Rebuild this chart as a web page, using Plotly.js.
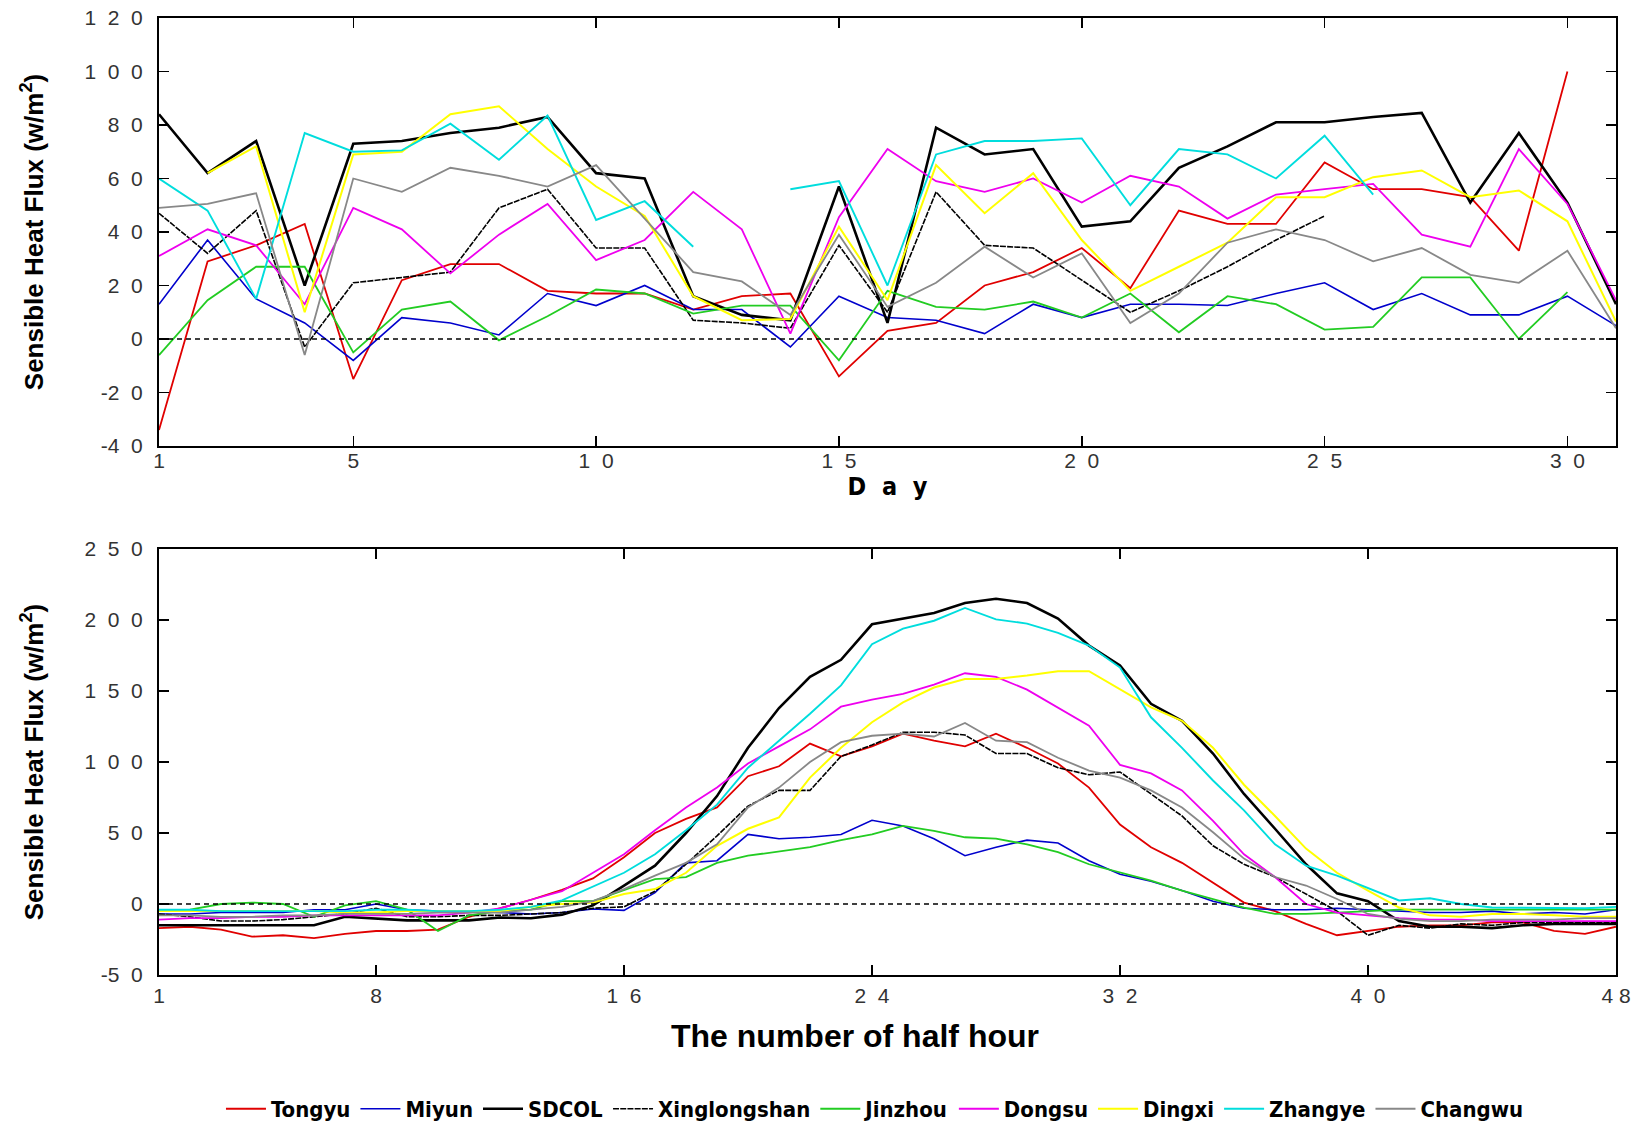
<!DOCTYPE html>
<html>
<head>
<meta charset="utf-8">
<script src="https://cdn.plot.ly/plotly-3.0.1.min.js"></script>
<style>
html,body{margin:0;padding:0;background:#fff;}
#chart{width:1633px;height:1123px;}
</style>
</head>
<body>
<div id="chart"></div>
<script>
// ---------------- data ----------------
const stations = ['Tongyu','Miyun','SDCOL','Xinglongshan','Jinzhou','Dongsu','Dingxi','Zhangye','Changwu'];

const days = [1,2,3,4,5,6,7,8,9,10,11,12,13,14,15,16,17,18,19,20,21,22,23,24,25,26,27,28,29,30,31];

const tongyuDay = [-34,29,35,43,-15,22,28,28,18,17,17,11,16,17,-14,3,6,20,25,34,19,48,43,43,66,56,56,53,33,100,null];
const miyunDay = [13,37,15,6,-8,8,6,1.5,17,12.5,20,11,11,-3,16,8,7,2,13,8,13,13,12.5,17,21,11,17,9,9,16,5];
const sdcolDay = [84,62,74,20,73,74,77,79,83,62,60,16,9,7,57,6,79,69,71,42,44,64,72,81,81,83,84.5,51,77,51,13];
const xinglongshanDay = [47,32,48,-3,21,23,25,49,56,34,34,7,6,4,35,10,55,35,34,22,10,18,27,37,46,null,null,null,null,null,null];
const jinzhouDay = [-6,14.5,27,27,-5,11,14,-0.5,8.5,18.5,17,9.5,12.5,12.5,-8,18,12,11,14,8,17,2.5,16,13,3.5,4.5,23,23,0,17.5,null];
const dongsuDay = [31,41,35,13,49,41,24.5,39,50.5,29.5,37,55,41,2,45.5,71,59,55,60,51,61,57,45,54,56,58,39,34.5,71,50.5,14.5];
const dingxiDay = [null,62,72,10,69,70,84,87,71,57,46,16,7,7.5,42,14.5,65,47,62,37,18,27,36,53,53,60.5,63,53,55.5,44,6.5];
const zhangyeDay = [60,48,15,77,70,70.5,80.5,67,83.5,44.5,51.5,34.5,null,56,59,20,69,74,74,75,50,71,69,60,76,54,null,null,null,null,null];
const changwuDay = [49,50.5,54.5,-6,60,55,64,61,57,65,45,25,21.5,9,39,12,21,34.5,23,32,6,17,36,41,37,29,34,24,21,33,4];

const halfHours = [1,2,3,4,5,6,7,8,9,10,11,12,13,14,15,16,17,18,19,20,21,22,23,24,25,26,27,28,29,30,31,32,33,34,35,36,37,38,39,40,41,42,43,44,45,46,47,48];

const tongyuHH = [-17,-16,-18,-23,-22,-24,-21,-19,-19,-18,-9,-3,3,10,18,33,50,60,68,90,97,113,104,111,120,115,111,120,110,99,82,56,40,29,15,1,-5,-14,-22,-19,-16,-15,-15,-13,-13,-19,-21,-16];
const miyunHH = [-7,-7,-6,-6,-6,-4,-4,0,-4,-5,-5,-6,-7,-6,-3.5,-4.5,8,29,30.5,49,46,47,49,59,55,46,34,40,45,43,30.5,21,16,9.5,2,-3,-4,-4,-3,-4,-5,-6,-6,-5,-7,-6,-7,-4];
const sdcolHH = [-15,-15,-15,-15,-15,-15,-9,-10.5,-11.5,-11.5,-11.5,-9.5,-10,-7.5,-1,13,27,50,76,110,138,160,172,197,201,205,212,215,212,201,182,168,141,129,106,77.5,53,28,7.5,2,-12,-16,-16,-17,-15,-14,-14,-14];
const xinglongshanHH = [-7,-9,-12,-12,-11,-9,-7,-3,-9,-9,-8,-8,-7,-6,-3,-2,9,28,48,69,80,80,104,112,121,121,119,106,106,96,91,93,77.5,62,41,28,19,7,-5,-22,-15,-17,-14,-15,-13,-13,-13,-13];
const jinzhouHH = [-5,-4,0,1,0,-9,-1,2,-4,-19,-8,-5,-4,2,2,9.5,17.5,19,29,34,37,40,45,49,55,51.5,47,46,42,36.5,28,22,16.5,9.5,3.5,-2.5,-7,-7,-6,-5,-4,-4,-4,-4,-4,-4,-4,-4];
const dongsuHH = [-11,-10,-10,-9,-9,-8,-8,-8,-8,-8,-6,-3,3,9,22,35,52,68,82,99,111,123,139,144,148,154.5,162.5,160,151,138.5,125.5,98,92,80,58.5,35,19,0,-6,-8,-10,-11,-11,-12,-12,-12,-12,-12];
const dingxiHH = [-5,-5,-5,-5,-5,-5,-6,-6,-5,-5,-5,-5,-2,0,1,7,10.5,22,41,53,61,89,110,128,142,152.5,158.5,158.5,161,164,164,151,138.5,129,110,84,62,39,22,9.5,-2.5,-8,-9,-7,-7,-8,-9,-9];
const zhangyeHH = [-4,-4,-5,-5,-5,-5,-5,-4,-4,-5,-5,-4,-2,2.5,12,22,35,52,70,96,115,134,154,183,194,199.5,208.5,200.5,197.5,191,182,166.5,131.5,110,87,66,42,27,20,11.5,2.5,4,0,-2.5,-2.5,-3,-3,-2];
const changwuHH = [-8,-8,-9,-9,-8,-8,-7,-7,-7,-6,-6,-6,-4,-2,2,10.5,20,29,42,68,82,100,114,118.5,120,118,127.5,115,114,103,94,89,80,68,50.5,32,19,13,3.5,-7,-10.5,-12,-12,-11,-11,-11,-10,-10];

const dayTickVals = [1,5,10,15,20,25,30];
const dayTickText = ['1','5','1 0','1 5','2 0','2 5','3 0'];
const dayFluxTickVals = [-40,-20,0,20,40,60,80,100,120];
const dayFluxTickText = ['-4 0','-2 0','0','2 0','4 0','6 0','8 0','1 0 0','1 2 0'];
const hhTickVals = [1,8,16,24,32,40,48];
const hhTickText = ['1','8','1 6','2 4','3 2','4 0','4 8'];
const hhFluxTickVals = [-50,0,50,100,150,200,250];
const hhFluxTickText = ['-5 0','0','5 0','1 0 0','1 5 0','2 0 0','2 5 0'];

const dailySeries = [tongyuDay, miyunDay, sdcolDay, xinglongshanDay, jinzhouDay, dongsuDay, dingxiDay, zhangyeDay, changwuDay];
const halfHourSeries = [tongyuHH, miyunHH, sdcolHH, xinglongshanHH, jinzhouHH, dongsuHH, dingxiHH, zhangyeHH, changwuHH];

// ---------------- styles ----------------
const styles = {
  Tongyu:       {color:'#e00000', width:1.8},
  Miyun:        {color:'#0000cc', width:1.6},
  SDCOL:        {color:'#000000', width:2.6},
  Xinglongshan: {color:'#000000', width:1.6, dash:'6px,1.2px'},
  Jinzhou:      {color:'#22cc22', width:1.8},
  Dongsu:       {color:'#ee00ee', width:1.8},
  Dingxi:       {color:'#ffff00', width:2.0},
  Zhangye:      {color:'#00dddd', width:1.9},
  Changwu:      {color:'#888888', width:1.8}
};

// wide digit spacing as in the original tick labels; the last bottom label sits at the frame edge
function spaced(arr){ return arr.map(s => s.replace(/ /g, '\u00a0\u00a0')); }
function spacedEdge(arr){ return arr.map((s, i) => i === arr.length - 1 ? s.replace(/ /g, '\u00a0') : s.replace(/ /g, '\u00a0\u00a0')); }

const traces = [];
stations.forEach((name, i) => {
  const st = styles[name];
  const line = {color: st.color, width: st.width};
  if (st.dash) line.dash = st.dash;
  traces.push({
    type:'scatter', mode:'lines', name:'<b>' + name + '</b>', legendgroup:name,
    x: days, y: dailySeries[i], xaxis:'x', yaxis:'y', line: line, connectgaps:false,
    showlegend:true, hoverinfo:'x+y'
  });
  traces.push({
    type:'scatter', mode:'lines', name:'<b>' + name + '</b>', legendgroup:name,
    x: halfHours, y: halfHourSeries[i], xaxis:'x2', yaxis:'y2', line: line, connectgaps:false,
    showlegend:false, hoverinfo:'x+y'
  });
});

const tickFont = {family:'Liberation Sans, Arial, sans-serif', size:21, color:'#333333'};
const axisBase = {
  showline:true, linecolor:'#000', linewidth:2, mirror:'ticks',
  ticks:'inside', ticklen:10, tickwidth:1.5, tickcolor:'#000',
  showgrid:false, zeroline:false, tickfont:tickFont, tickmode:'array',
  ticklabelstandoff:10, ticklabeloverflow:'allow'
};
const yTitleFont = {family:'Liberation Sans, Arial, sans-serif', size:26, color:'#000'};

const layout = {
  width:1633, height:1123,
  paper_bgcolor:'#fff', plot_bgcolor:'#fff',
  margin:{l:159, r:17, t:18, b:148},
  showlegend:true,
  xaxis: Object.assign({}, axisBase, {
    domain:[0,1], anchor:'y', range:[1,31],
    tickvals:dayTickVals, ticktext:spaced(dayTickText), ticklabelstandoff:-5,
    title:{text:'<b>D\u00a0\u00a0a\u00a0\u00a0y</b>', font:{family:'Liberation Sans Narrow, DejaVu Sans Condensed, Arial Narrow, sans-serif', size:25, color:'#000'}, standoff:4}
  }),
  yaxis: Object.assign({}, axisBase, {
    domain:[0.5528,1], anchor:'x', range:[-40,120],
    tickvals:dayFluxTickVals, ticktext:spaced(dayFluxTickText),
    title:{text:'<b>Sensible Heat Flux (w/m<sup>2</sup>)</b>', font:yTitleFont, standoff:33}
  }),
  xaxis2: Object.assign({}, axisBase, {
    domain:[0,1], anchor:'y2', range:[1,48],
    tickvals:hhTickVals, ticktext:spacedEdge(hhTickText), ticklabelstandoff:1
  }),
  yaxis2: Object.assign({}, axisBase, {
    domain:[0,0.4451], anchor:'x2', range:[-50,250],
    tickvals:hhFluxTickVals, ticktext:spaced(hhFluxTickText),
    title:{text:'<b>Sensible Heat Flux (w/m<sup>2</sup>)</b>', font:yTitleFont, standoff:33}
  }),
  shapes:[
    {type:'line', xref:'x domain', x0:0, x1:1, yref:'y', y0:0, y1:0, line:{color:'#000', width:1.4, dash:'5px,4px'}},
    {type:'line', xref:'x2 domain', x0:0, x1:1, yref:'y2', y0:0, y1:0, line:{color:'#000', width:1.4, dash:'5px,4px'}}
  ],
  annotations:[
    {text:'<b>The number of half hour</b>', xref:'paper', yref:'paper', x:0.4777, y:-0.064,
     xanchor:'center', yanchor:'middle', showarrow:false,
     font:{family:'Liberation Sans, Arial, sans-serif', size:32, color:'#000'}}
  ],
  legend:{
    orientation:'h', xref:'paper', x:0.4914, xanchor:'center',
    yref:'container', y:0.0125, yanchor:'middle',
    font:{family:'Liberation Sans Narrow, DejaVu Sans Condensed, Arial Narrow, sans-serif', size:22, color:'#000'},
    itemwidth:40, traceorder:'normal', bgcolor:'rgba(0,0,0,0)'
  }
};

Plotly.newPlot('chart', traces, layout, {staticPlot:true, displayModeBar:false});
</script>
</body>
</html>
